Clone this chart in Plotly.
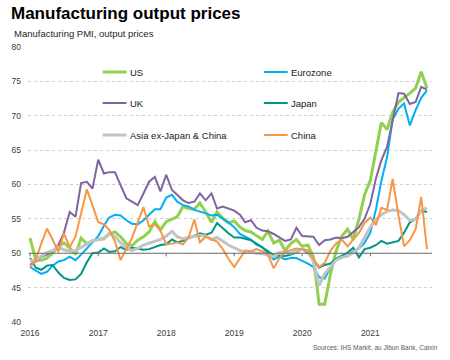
import pandas as pd
import plotly.graph_objects as go

months = pd.date_range("2016-01-01", periods=71, freq="MS")

us = [52.2, 49.0, 49.0, 49.3, 50.0, 51.0, 51.5, 50.8, 49.8, 52.2, 51.4, 51.8,
      52.0, 52.1, 52.8, 53.1, 52.4, 51.4, 51.1, 51.9, 52.4, 53.1, 54.6, 53.4,
      54.6, 55.0, 55.3, 56.8, 56.5, 56.4, 57.3, 56.0, 54.5, 56.0, 55.1, 54.4,
      54.7, 53.8, 53.3, 53.1, 52.6, 52.0, 53.2, 51.5, 51.9, 50.4, 51.4, 52.0,
      51.0, 51.2, 49.5, 42.6, 42.6, 47.0, 50.3, 52.5, 53.5, 52.0, 55.0, 58.5,
      60.6, 65.0, 69.0, 68.0, 70.5, 72.0, 72.7, 73.3, 74.0, 76.4, 74.0]

eurozone = [48.0, 47.5, 47.0, 47.3, 48.2, 48.8, 49.0, 49.5, 49.0, 49.8, 50.7, 51.5,
            52.5, 54.0, 55.2, 55.6, 55.5, 54.8, 54.3, 54.2, 54.8, 55.6, 56.4, 56.4,
            58.1, 58.5, 57.5, 57.0, 56.8, 56.3, 56.0, 55.8, 55.5, 55.6, 55.0, 54.5,
            53.8, 52.8, 52.4, 52.0, 51.2, 50.9, 50.0, 49.1, 49.5, 49.1, 49.3, 49.3,
            48.9, 48.5, 48.0, 46.5, 46.3, 48.0, 49.2, 49.5, 49.6, 50.3, 50.7, 51.5,
            53.0, 56.5, 60.5, 64.0, 69.5, 71.0, 71.8, 68.6, 70.8, 72.6, 73.7]

uk = [48.3, 48.8, 49.5, 49.8, 50.3, 51.2, 53.0, 56.0, 55.3, 60.2, 60.4, 59.4,
      63.6, 61.6, 61.8, 61.8, 59.9, 58.0, 57.5, 57.0, 58.7, 60.4, 61.1, 59.0,
      61.4, 59.2, 58.5, 57.7, 57.3, 57.5, 58.7, 57.7, 58.7, 56.5, 56.8, 56.5,
      56.2, 55.6, 54.5, 54.8, 53.7, 53.3, 53.2, 52.8, 52.3, 51.8, 52.0, 53.7,
      52.5, 52.5, 52.4, 51.2, 51.9, 52.0, 52.3, 52.2, 52.4, 53.1, 53.8, 55.0,
      57.2, 61.0, 63.5, 65.5, 69.5, 73.3, 73.2, 71.7, 72.0, 74.2, 73.8]

japan = [49.3, 47.9, 47.6, 48.2, 48.3, 47.2, 46.4, 46.1, 46.2, 47.0, 48.7, 50.0,
         50.1, 50.7, 50.2, 50.3, 50.9, 50.5, 50.8, 50.6, 50.5, 50.6, 50.9, 51.2,
         51.3, 52.0, 51.6, 51.8, 52.2, 52.6, 52.9, 52.7, 53.0, 54.4, 53.6, 52.9,
         52.3, 52.3, 52.1, 51.9, 51.4, 50.9, 50.3, 49.7, 49.7, 49.6, 49.8, 50.1,
         50.6, 50.0, 49.1, 47.9, 48.3, 48.5, 49.2, 49.6, 50.1, 50.8, 49.4, 50.6,
         50.8, 51.2, 51.8, 51.4, 51.6, 51.8, 53.0, 54.5, 55.0, 56.2, 56.0]

asia = [48.9, 49.0, 49.6, 50.1, 50.4, 50.9, 50.5, 50.3, 50.4, 50.9, 51.3, 51.8,
        52.0, 52.2, 52.9, 52.4, 51.5, 50.8, 50.4, 50.7, 51.2, 51.5, 51.7, 52.0,
        52.5, 53.2, 52.4, 52.1, 52.3, 52.4, 52.6, 52.5, 52.0, 52.3, 51.7, 51.2,
        50.8, 50.4, 50.2, 50.2, 50.0, 50.0, 49.7, 49.5, 50.1, 50.2, 50.0, 50.3,
        50.6, 50.3, 48.8, 45.3, 47.0, 48.0, 49.0, 49.4, 49.6, 50.1, 50.8, 52.3,
        53.8, 54.9, 55.6, 56.1, 56.3, 56.2, 55.6, 54.8, 54.9, 56.2, 56.6]

china = [47.9, 49.1, 51.4, 53.6, 52.0, 50.2, 52.9, 50.9, 52.4, 56.0, 59.3, 57.0,
         54.5, 54.2, 53.4, 51.7, 49.0, 50.6, 52.2, 54.5, 56.7, 53.9, 54.2, 53.3,
         51.3, 51.4, 51.6, 51.3, 52.3, 54.9, 51.6, 52.4, 52.1, 51.7, 50.6, 49.2,
         48.0, 49.3, 50.4, 50.3, 50.6, 50.3, 49.8, 47.8, 49.3, 50.2, 50.5, 50.7,
         50.6, 50.4, 49.2, 48.0, 48.6, 50.4, 51.4, 52.0, 51.0, 52.0, 53.0, 54.4,
         55.2, 54.1, 56.6, 56.3, 60.8, 55.5, 51.0, 51.9, 53.5, 58.2, 50.6]

year_ticks = ["2016-01-01", "2017-01-01", "2018-01-01", "2019-01-01", "2020-01-01", "2021-01-01"]
year_labels = ["2016", "2017", "2018", "2019", "2020", "2021"]

series = [
    ("US", us, "#92D050", 3),
    ("Eurozone", eurozone, "#00B0F0", 2),
    ("UK", uk, "#8064A2", 2),
    ("Japan", japan, "#00968A", 2),
    ("Asia ex-Japan & China", asia, "#C3C3C3", 3),
    ("China", china, "#F79646", 2),
]

FONT = "Liberation Sans, Arial, sans-serif"

fig = go.Figure()
for name, vals, color, w in series:
    fig.add_trace(go.Scatter(x=months, y=vals, mode="lines", name=name,
                             line=dict(color=color, width=w), showlegend=False))

W, H = 450, 360
L, R, T, B = 26, 18, 47, 38
pw, ph = W - L - R, H - T - B


def px(x):
    return (x - L) / pw


def py(y):
    return (H - B - y) / ph


shapes = []
# 50 baseline
shapes.append(dict(type="line", xref="paper", yref="y", x0=px(27), x1=1, y0=50, y1=50,
                   line=dict(color="#6E6E6E", width=1)))
for t in year_ticks:
    shapes.append(dict(type="line", xref="x", yref="y", x0=t, x1=t, y0=50, y1=49.55,
                       line=dict(color="#6E6E6E", width=1)))

annotations = []
# Legend (manual, two columns)
legend_pos = [
    ("US", "#92D050", 3, 101, 72),
    ("UK", "#8064A2", 2, 101, 103),
    ("Asia ex-Japan & China", "#C3C3C3", 3, 101, 135),
    ("Eurozone", "#00B0F0", 2, 263, 72),
    ("Japan", "#00968A", 2, 263, 103),
    ("China", "#F79646", 2, 263, 135),
]
for name, color, w, x0, y0 in legend_pos:
    shapes.append(dict(type="line", xref="paper", yref="paper",
                       x0=px(x0), x1=px(x0 + 24), y0=py(y0), y1=py(y0),
                       line=dict(color=color, width=w)))
    annotations.append(dict(text=name, xref="paper", yref="paper", x=px(x0 + 25), y=py(y0),
                            xanchor="left", yanchor="middle", showarrow=False,
                            font=dict(size=9.5, color="#1A1A1A", family=FONT)))

annotations.append(dict(text="<b>Manufacturing output prices</b>", xref="paper", yref="paper",
                        x=px(7), y=py(13.5), xanchor="left", yanchor="middle", showarrow=False,
                        font=dict(size=17, color="#000000", family=FONT)))
annotations.append(dict(text="Manufacturing PMI, output prices", xref="paper", yref="paper",
                        x=px(10), y=py(34), xanchor="left", yanchor="middle", showarrow=False,
                        font=dict(size=9.5, color="#262626", family=FONT)))
annotations.append(dict(text="Sources: IHS Markit, au Jibun Bank, Caixin", xref="paper", yref="paper",
                        x=px(440), y=py(347), xanchor="right", yanchor="middle", showarrow=False,
                        font=dict(size=6.5, color="#595959", family=FONT)))

fig.update_layout(
    width=W, height=H,
    margin=dict(l=L, r=R, t=T, b=B, pad=0),
    paper_bgcolor="white", plot_bgcolor="white",
    font=dict(family=FONT, color="#404040"),
    shapes=shapes, annotations=annotations,
    xaxis=dict(type="date", range=["2015-12-21", "2021-11-28"],
               tickvals=year_ticks, ticktext=year_labels,
               showgrid=False, zeroline=False, showline=False, ticks="",
               ticklabelstandoff=4,
               tickfont=dict(size=8.5, color="#404040")),
    yaxis=dict(range=[40, 80], dtick=5, tick0=40,
               showgrid=True, gridcolor="#D0D0D0", griddash="dot", gridwidth=1,
               zeroline=False, showline=False, ticks="",
               ticklabelstandoff=6,
               tickfont=dict(size=8.5, color="#404040")),
)

fig.write_html("out.html",
               config={"displayModeBar": False},
               post_script="document.body.style.margin='0';document.body.style.padding='0';")
